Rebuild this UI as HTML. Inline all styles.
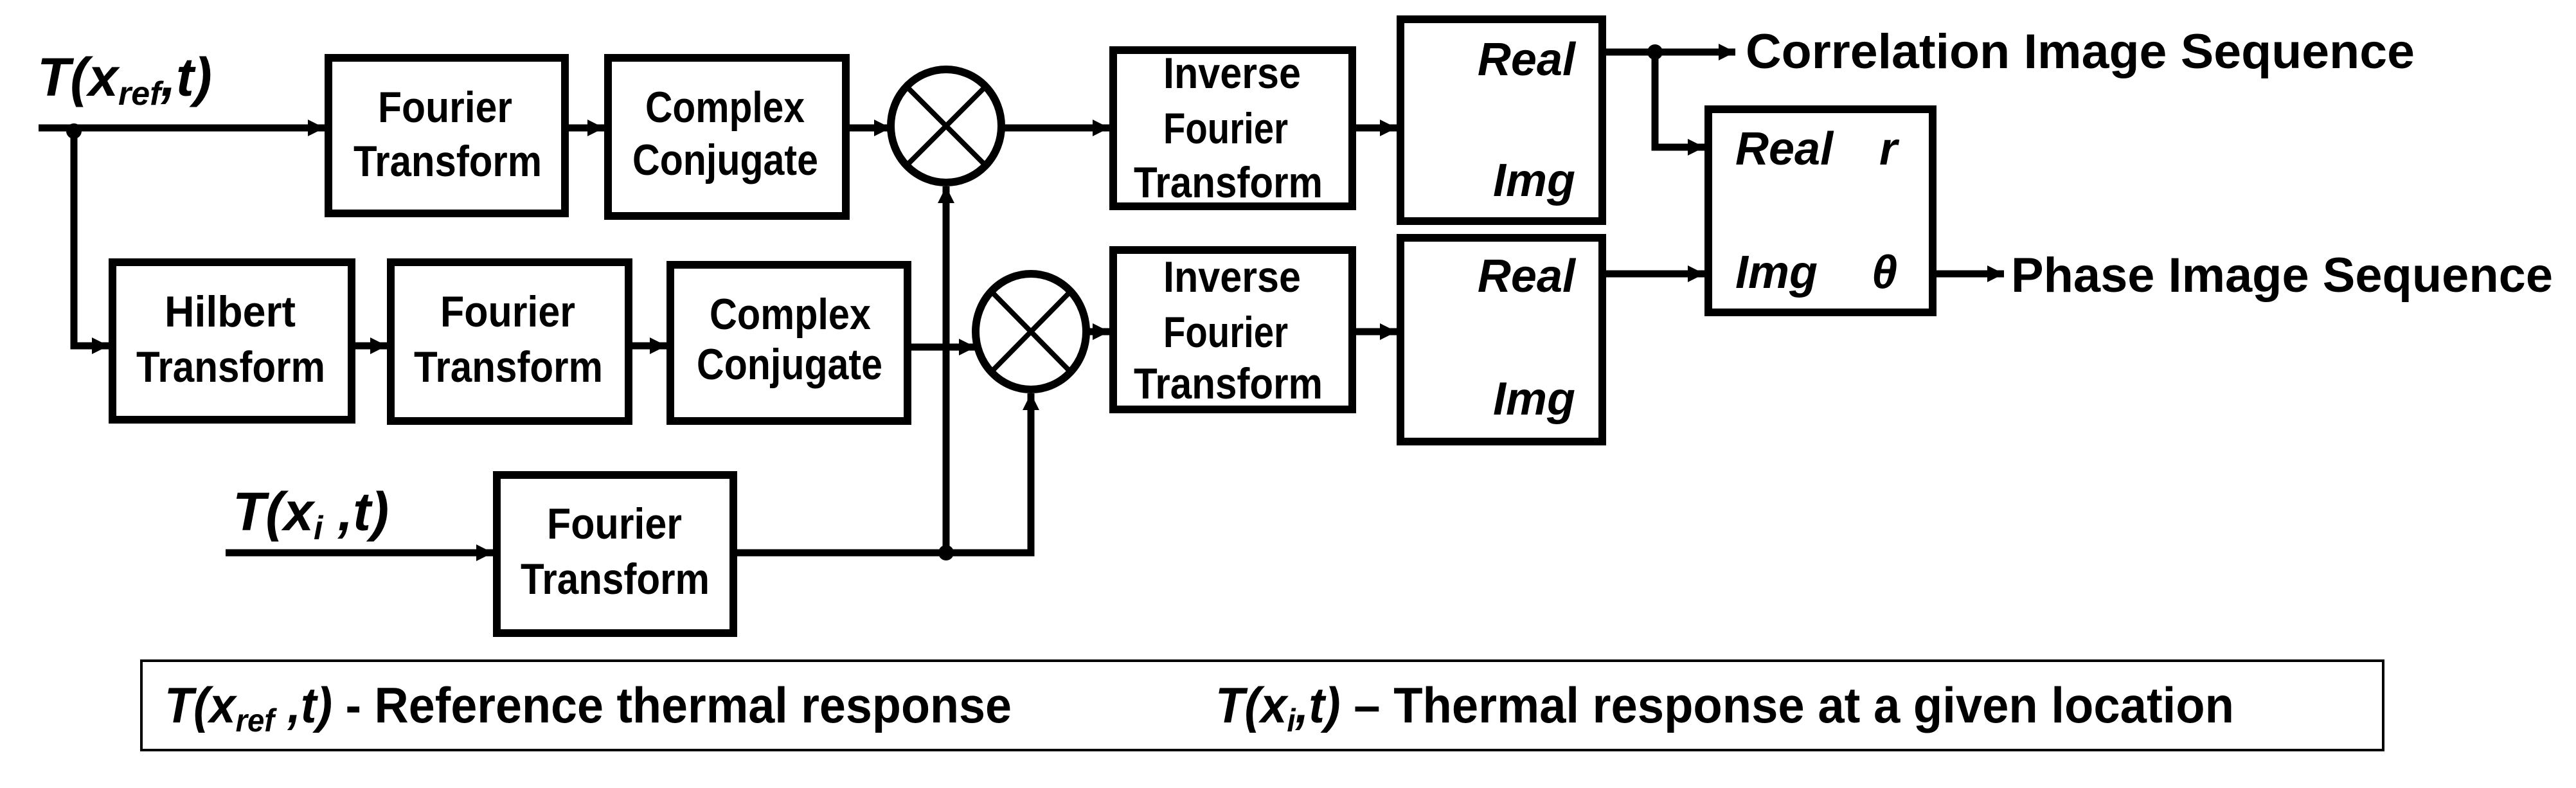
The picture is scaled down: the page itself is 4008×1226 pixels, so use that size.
<!DOCTYPE html>
<html><head><meta charset="utf-8"><style>html,body{margin:0;padding:0;background:#fff}svg{display:block}</style></head><body>
<svg width="4008" height="1226" viewBox="0 0 4008 1226" xmlns="http://www.w3.org/2000/svg">
<defs>
<marker id="a" markerUnits="userSpaceOnUse" markerWidth="30" markerHeight="30" refX="26" refY="13" orient="auto"><path d="M0,0 L26,13 L0,26 Z" fill="#000"/></marker>
</defs>
<g fill="none" stroke="#000" stroke-width="12">
<rect x="511" y="90" width="368" height="242"/>
<rect x="946" y="90" width="370" height="246"/>
<rect x="1732" y="78" width="372" height="243"/>
<rect x="2179" y="30" width="314" height="314"/>
<rect x="2658" y="170" width="349" height="316"/>
<rect x="175" y="408" width="372" height="245"/>
<rect x="608" y="408" width="370" height="247"/>
<rect x="1043" y="412" width="369" height="243"/>
<rect x="1732" y="389" width="372" height="248"/>
<rect x="2179" y="370" width="314" height="317"/>
<rect x="773" y="739" width="368" height="246"/>
<ellipse cx="1472" cy="196" rx="86" ry="88"/>
<ellipse cx="1604" cy="516" rx="86" ry="90"/>
<line x1="1411" y1="135" x2="1533" y2="257" stroke-width="8"/>
<line x1="1533" y1="135" x2="1411" y2="257" stroke-width="8"/>
<line x1="1543" y1="454" x2="1665" y2="578" stroke-width="8"/>
<line x1="1665" y1="454" x2="1543" y2="578" stroke-width="8"/>
</g>
<g fill="none" stroke="#000" stroke-width="11">
<line x1="60" y1="199" x2="505" y2="199" marker-end="url(#a)"/>
<line x1="879" y1="199" x2="940" y2="199" marker-end="url(#a)"/>
<line x1="1316" y1="199" x2="1386" y2="199" marker-end="url(#a)"/>
<line x1="1558" y1="199" x2="1726" y2="199" marker-end="url(#a)"/>
<line x1="2104" y1="199" x2="2173" y2="199" marker-end="url(#a)"/>
<polyline points="115,199 115,538 169,538" marker-end="url(#a)"/>
<line x1="547" y1="538" x2="602" y2="538" marker-end="url(#a)"/>
<line x1="978" y1="538" x2="1037" y2="538" marker-end="url(#a)"/>
<line x1="1412" y1="540" x2="1518" y2="540" marker-end="url(#a)"/>
<line x1="1690" y1="516" x2="1726" y2="516" marker-end="url(#a)"/>
<line x1="2104" y1="516" x2="2173" y2="516" marker-end="url(#a)"/>
<line x1="2493" y1="81" x2="2700" y2="81" marker-end="url(#a)"/>
<polyline points="2575,81 2575,229 2652,229" marker-end="url(#a)"/>
<line x1="2493" y1="426" x2="2652" y2="426" marker-end="url(#a)"/>
<line x1="3007" y1="426" x2="3118" y2="426" marker-end="url(#a)"/>
<line x1="351" y1="860" x2="767" y2="860" marker-end="url(#a)"/>
<polyline points="1141,860 1604,860 1604,612" marker-end="url(#a)"/>
<line x1="1472" y1="860" x2="1472" y2="290" marker-end="url(#a)"/>
</g>
<circle cx="115" cy="204" r="12" fill="#000"/>
<circle cx="2575" cy="81" r="12" fill="#000"/>
<circle cx="1472" cy="860" r="12" fill="#000"/>
<rect x="220" y="1028" width="3488" height="139" fill="none" stroke="#000" stroke-width="4"/>
<g font-family="Liberation Sans, sans-serif" font-weight="bold" font-size="68" fill="#000" lengthAdjust="spacingAndGlyphs">
<text x="588" y="190" textLength="209" lengthAdjust="spacingAndGlyphs">Fourier</text><text x="550" y="274" textLength="293" lengthAdjust="spacingAndGlyphs">Transform</text>
<text x="1004" y="190" textLength="248" lengthAdjust="spacingAndGlyphs">Complex</text><text x="984" y="272" textLength="289" lengthAdjust="spacingAndGlyphs">Conjugate</text>
<text x="1810" y="137" textLength="214" lengthAdjust="spacingAndGlyphs">Inverse</text><text x="1810" y="223" textLength="194" lengthAdjust="spacingAndGlyphs">Fourier</text><text x="1764" y="307" textLength="294" lengthAdjust="spacingAndGlyphs">Transform</text>
<text x="1810" y="454" textLength="214" lengthAdjust="spacingAndGlyphs">Inverse</text><text x="1810" y="540" textLength="194" lengthAdjust="spacingAndGlyphs">Fourier</text><text x="1764" y="620" textLength="294" lengthAdjust="spacingAndGlyphs">Transform</text>
<text x="256" y="508" textLength="204" lengthAdjust="spacingAndGlyphs">Hilbert</text><text x="212" y="594" textLength="294" lengthAdjust="spacingAndGlyphs">Transform</text>
<text x="685" y="508" textLength="210" lengthAdjust="spacingAndGlyphs">Fourier</text><text x="644" y="594" textLength="294" lengthAdjust="spacingAndGlyphs">Transform</text>
<text x="1104" y="512" textLength="251" lengthAdjust="spacingAndGlyphs">Complex</text><text x="1084" y="590" textLength="289" lengthAdjust="spacingAndGlyphs">Conjugate</text>
<text x="851" y="838" textLength="210" lengthAdjust="spacingAndGlyphs">Fourier</text><text x="810" y="924" textLength="294" lengthAdjust="spacingAndGlyphs">Transform</text>
</g>
<g font-family="Liberation Sans, sans-serif" font-weight="bold" font-size="76" fill="#000">
<text x="2716" y="106" textLength="1041" lengthAdjust="spacingAndGlyphs">Correlation Image Sequence</text>
<text x="3129" y="454" textLength="843" lengthAdjust="spacingAndGlyphs">Phase Image Sequence</text>
</g>
<g font-family="Liberation Sans, sans-serif" font-weight="bold" font-style="italic" font-size="72" fill="#000">
<text x="2451" y="117" text-anchor="end">Real</text><text x="2451" y="305" text-anchor="end">Img</text>
<text x="2451" y="454" text-anchor="end">Real</text><text x="2451" y="645" text-anchor="end">Img</text>
<text x="2700" y="256">Real</text><text x="2924" y="256">r</text>
<text x="2700" y="448">Img</text><text x="2912" y="448">θ</text>
<text x="58" y="149" font-size="84">T(x<tspan font-size="52" dy="14">ref</tspan><tspan dy="-14">,t)</tspan></text>
<text x="362" y="825" font-size="84">T(x<tspan font-size="52" dy="14">i</tspan><tspan dy="-14"> ,t)</tspan></text>
</g>
<g font-family="Liberation Sans, sans-serif" font-weight="bold" font-size="78" fill="#000">
<text x="256" y="1124" textLength="1318" lengthAdjust="spacingAndGlyphs"><tspan font-style="italic">T(x<tspan font-size="50" dy="14">ref</tspan><tspan dy="-14"> ,t)</tspan></tspan> - Reference thermal response</text>
<text x="1891" y="1124" textLength="1585" lengthAdjust="spacingAndGlyphs"><tspan font-style="italic">T(x<tspan font-size="50" dy="14">i</tspan><tspan dy="-14">,t)</tspan></tspan> – Thermal response at a given location</text>
</g>
</svg>
</body></html>
